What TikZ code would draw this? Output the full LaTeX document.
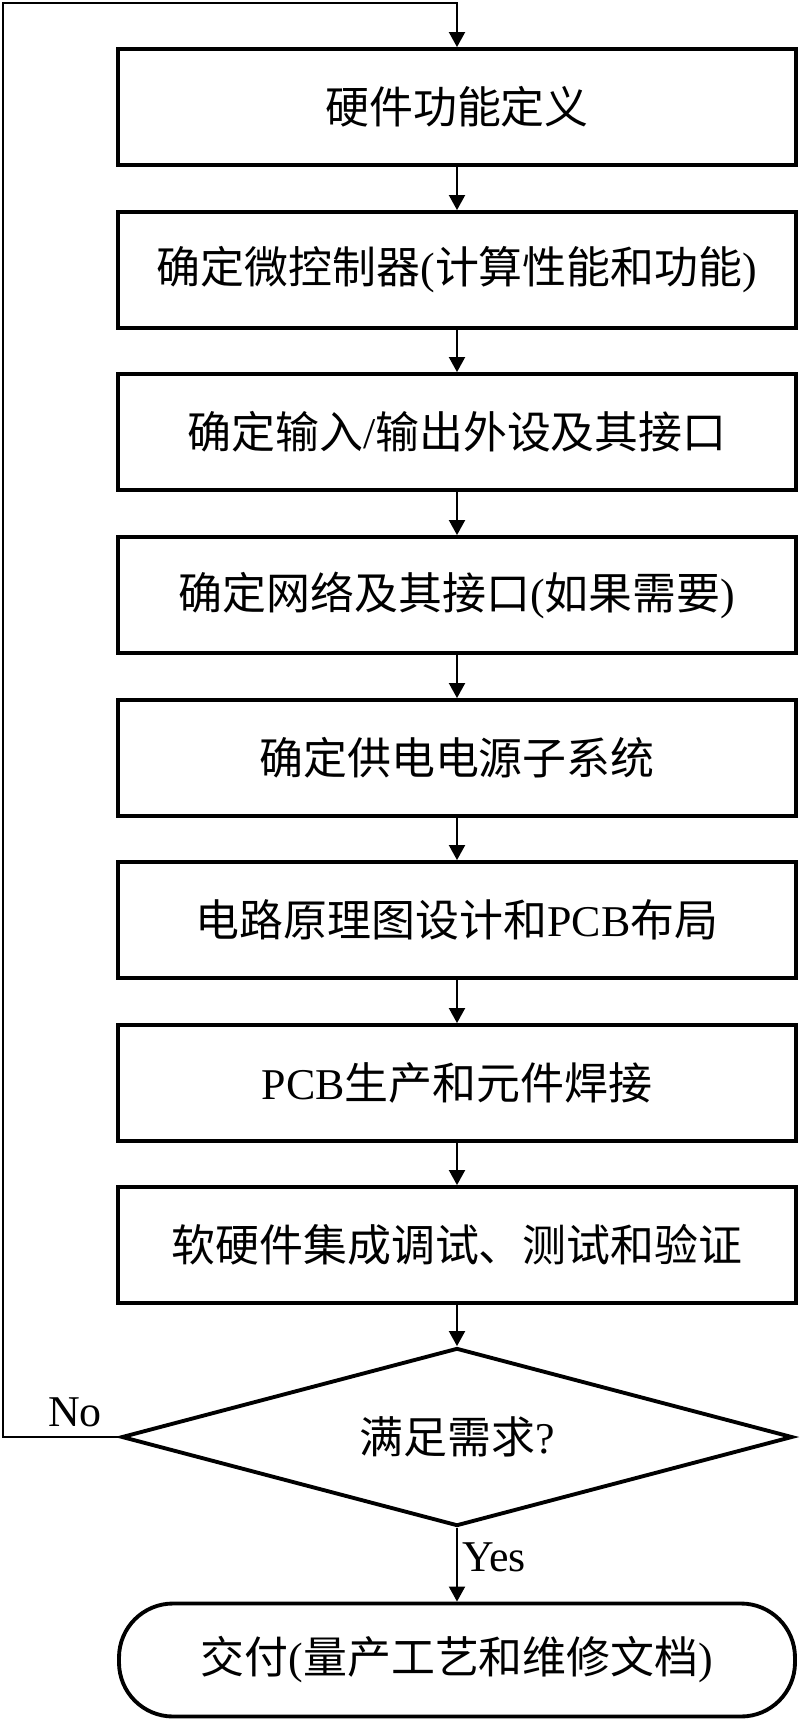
\documentclass[tikz,border=0pt]{standalone}
\usepackage{fontspec}
\setmainfont{Liberation Serif}
\newfontfamily\cjk{Noto Sans CJK SC}
\usetikzlibrary{arrows.meta,shapes.geometric}
\newcommand{\lat}[1]{{\rmfamily #1}}

\tikzset{
  stepbox/.style={draw, line width=2.2pt, minimum width=13.56cm, minimum height=2.32cm,
    inner sep=0pt, font=\cjk\fontsize{25}{30}\selectfont},
  decide/.style={draw, diamond, aspect=3.77, line width=2.2pt, minimum width=13.42cm,
    minimum height=3.56cm, inner sep=0pt, font=\cjk\fontsize{25}{30}\selectfont},
  endbox/.style={draw, rounded corners=1.08cm, line width=2.2pt, minimum width=13.52cm,
    minimum height=2.26cm, inner sep=0pt, font=\cjk\fontsize{25}{30}\selectfont},
  flow/.style={line width=1.1pt, -{Triangle[length=0.3cm,width=0.32cm]}},
  tag/.style={font=\fontsize{25}{30}\selectfont}
}

\begin{document}
\begin{tikzpicture}
\useasboundingbox (0,0) rectangle (16,-34.44);
\node[stepbox] (def) at (9.14,-2.14) {硬件功能定义};
\node[stepbox] (mcu) at (9.14,-5.40) {确定微控制器\lat{(}计算性能和功能\lat{)}};
\node[stepbox] (io) at (9.14,-8.64) {确定输入\lat{/}输出外设及其接口};
\node[stepbox] (net) at (9.14,-11.90) {确定网络及其接口\lat{(}如果需要\lat{)}};
\node[stepbox] (pwr) at (9.14,-15.16) {确定供电电源子系统};
\node[stepbox] (sch) at (9.14,-18.40) {电路原理图设计和\lat{PCB}布局};
\node[stepbox] (pcb) at (9.14,-21.66) {\lat{PCB}生产和元件焊接};
\node[stepbox] (test) at (9.14,-24.90) {软硬件集成调试、测试和验证};
\node[decide] (ok) at (9.14,-28.74) {满足需求\lat{?}};
\node[endbox] (ship) at (9.14,-33.2) {交付\lat{(}量产工艺和维修文档\lat{)}};
\coordinate (corner) at (0.06,-0.06);

\draw[flow] (def) -- (mcu);
\draw[flow] (mcu) -- (io);
\draw[flow] (io) -- (net);
\draw[flow] (net) -- (pwr);
\draw[flow] (pwr) -- (sch);
\draw[flow] (sch) -- (pcb);
\draw[flow] (pcb) -- (test);
\draw[flow] (test) -- (ok);
\draw[flow] (ok) -- (ship);
\draw[flow] (ok.west) -| (corner) -| (def.north);

\node[tag] (no) at (1.5,-28.24) {No};
\node[tag] (yes) at (9.88,-31.14) {Yes};
\end{tikzpicture}
\end{document}
